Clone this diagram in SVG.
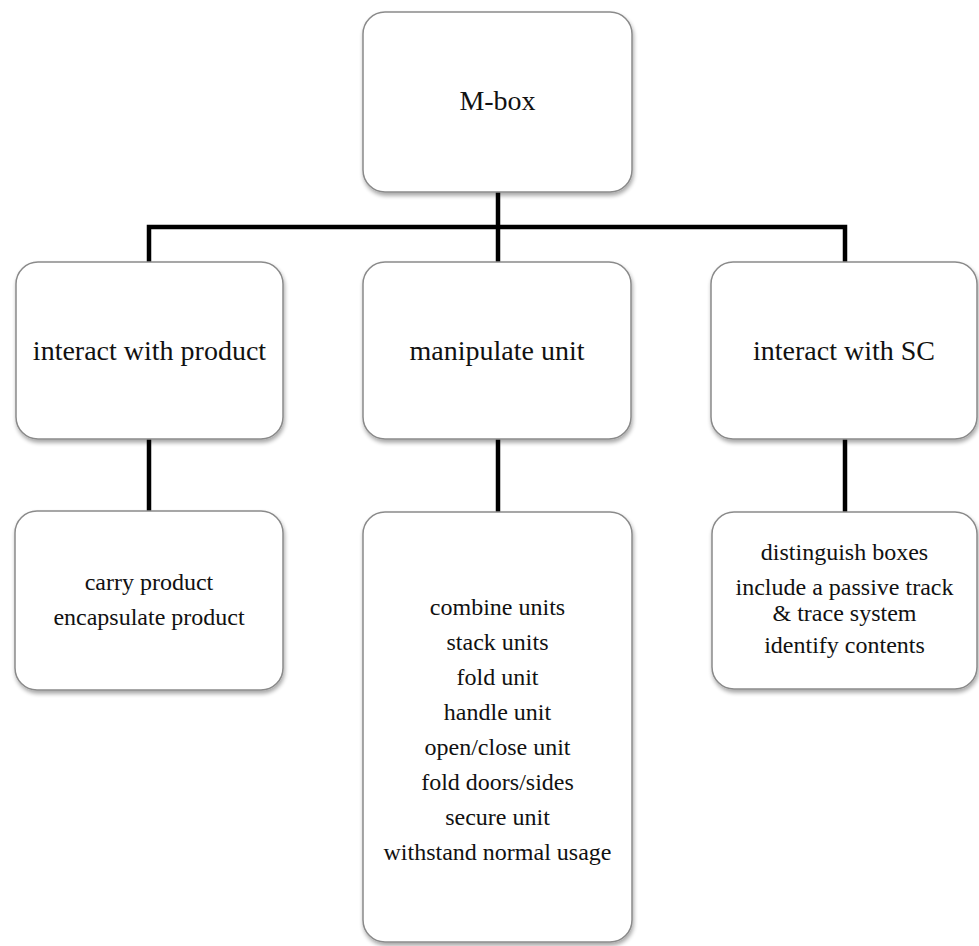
<svg xmlns="http://www.w3.org/2000/svg" width="979" height="946" viewBox="0 0 979 946">
<style>
.box{fill:#ffffff;stroke:#8a8a8a;stroke-width:1.5;filter:url(#sh)}
.t{font-family:'Liberation Serif','Times New Roman',serif;font-size:24px;fill:#111;text-anchor:middle}
.big{font-size:28px}
.conn{stroke:#000;stroke-width:4.5;fill:none}
</style>
<defs>
<filter id="sh" x="-10%" y="-10%" width="120%" height="120%">
<feGaussianBlur in="SourceAlpha" stdDeviation="2"/>
<feOffset dx="1" dy="3" result="b"/>
<feComponentTransfer><feFuncA type="linear" slope="0.35"/></feComponentTransfer>
<feMerge><feMergeNode/><feMergeNode in="SourceGraphic"/></feMerge>
</filter>
</defs>
<rect width="979" height="946" fill="#ffffff"/>
<g id="connectors">
<path class="conn" d="M498 192 V262"/>
<path class="conn" d="M149 262 V227 H845 V262"/>
<path class="conn" d="M149 439 V511"/>
<path class="conn" d="M498 439 V512"/>
<path class="conn" d="M845 439 V512"/>
</g>
<g id="mbox">
<rect class="box" x="363" y="12" width="269" height="180" rx="22"/>
<text class="t big" x="497.5" y="110">M-box</text>
</g>
<g id="interact-product">
<rect class="box" x="16" y="262" width="267" height="177" rx="22"/>
<text class="t big" x="149.5" y="360">interact with product</text>
</g>
<g id="manipulate-unit">
<rect class="box" x="363" y="262" width="268" height="177" rx="22"/>
<text class="t big" x="497" y="360">manipulate unit</text>
</g>
<g id="interact-sc">
<rect class="box" x="711" y="262" width="266" height="177" rx="22"/>
<text class="t big" x="844" y="360">interact with SC</text>
</g>
<g id="product-functions">
<rect class="box" x="15" y="511" width="268" height="179" rx="22"/>
<text class="t" x="149" y="590">carry product</text>
<text class="t" x="149" y="625">encapsulate product</text>
</g>
<g id="unit-functions">
<rect class="box" x="363" y="512" width="269" height="430" rx="22"/>
<text class="t" x="497.5" y="615">combine units</text>
<text class="t" x="497.5" y="650">stack units</text>
<text class="t" x="497.5" y="685">fold unit</text>
<text class="t" x="497.5" y="720">handle unit</text>
<text class="t" x="497.5" y="755">open/close unit</text>
<text class="t" x="497.5" y="790">fold doors/sides</text>
<text class="t" x="497.5" y="825">secure unit</text>
<text class="t" x="497.5" y="860">withstand normal usage</text>
</g>
<g id="sc-functions">
<rect class="box" x="712" y="512" width="265" height="177" rx="22"/>
<text class="t" x="844.5" y="560">distinguish boxes</text>
<text class="t" x="844.5" y="595">include a passive track</text>
<text class="t" x="844.5" y="621">&amp; trace system</text>
<text class="t" x="844.5" y="653">identify contents</text>
</g>
</svg>
